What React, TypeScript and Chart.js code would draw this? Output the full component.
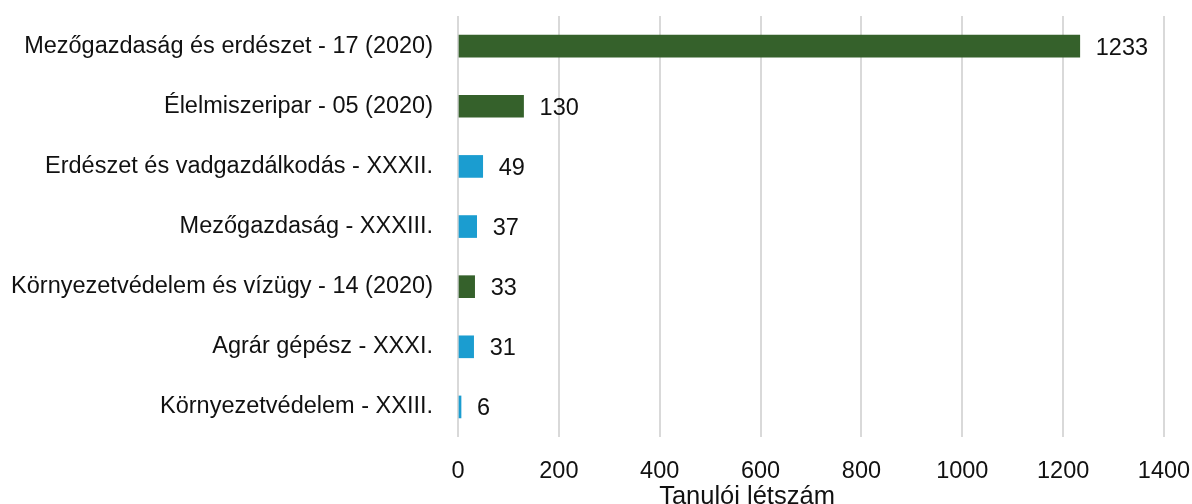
import React, { useEffect, useRef } from "react";
import { Chart, registerables } from "chart.js";

Chart.register(...registerables);

const categories = [
  "Mezőgazdaság és erdészet - 17 (2020)",
  "Élelmiszeripar - 05 (2020)",
  "Erdészet és vadgazdálkodás - XXXII.",
  "Mezőgazdaság - XXXIII.",
  "Környezetvédelem és vízügy - 14 (2020)",
  "Agrár gépész - XXXI.",
  "Környezetvédelem - XXIII.",
];
const studentCounts = [1233, 130, 49, 37, 33, 31, 6];
const programKind = ["2020", "2020", "old", "old", "2020", "old", "old"];
const xTicks = [0, 200, 400, 600, 800, 1000, 1200, 1400];
const xTitle = "Tanulói létszám";

const GREEN = "#35612b";
const BLUE = "#1b9dd0";
const FONT = "'Liberation Sans', Arial, sans-serif";

export default function App() {
  const ref = useRef<HTMLCanvasElement | null>(null);
  useEffect(() => {
    document.body.style.margin = "0";
    document.body.style.overflow = "hidden";
    const labelPlugin = {
      id: "valueLabels",
      afterDatasetsDraw(chart: any) {
        const ctx = chart.ctx;
        const meta = chart.getDatasetMeta(0);
        ctx.save();
        ctx.font = `23.5px ${FONT}`;
        ctx.fillStyle = "#111";
        ctx.textAlign = "left";
        ctx.textBaseline = "middle";
        meta.data.forEach((bar: any, i: number) => {
          ctx.fillText(String(studentCounts[i]), bar.x + 16, bar.y + 2);
        });
        ctx.restore();
      },
      afterDraw(chart: any) {
        const ctx = chart.ctx;
        const a = chart.chartArea;
        ctx.save();
        ctx.font = `25.5px ${FONT}`;
        ctx.fillStyle = "#111";
        ctx.textAlign = "center";
        ctx.textBaseline = "middle";
        ctx.fillText(xTitle, (a.left + a.right) / 2 - 64, a.bottom + 60);
        ctx.restore();
      },
    };
    const chart = new Chart(ref.current!, {
      type: "bar",
      data: {
        labels: categories,
        datasets: [
          {
            data: studentCounts,
            backgroundColor: programKind.map((k) => (k === "2020" ? GREEN : BLUE)),
            barThickness: 22,
          },
        ],
      },
      options: {
        indexAxis: "y",
        animation: false,
        responsive: false,
        devicePixelRatio: 1,
        layout: { padding: { top: 0, right: 0, left: 0, bottom: 0 } },
        plugins: { legend: { display: false }, tooltip: { enabled: false } },
        scales: {
          x: {
            min: 0,
            max: 1400,
            afterBuildTicks(scale: any) {
              scale.ticks = xTicks.map((v) => ({ value: v }));
            },
            afterFit(scale: any) {
              scale.height = 67;
              scale.paddingRight = 28;
              scale.paddingLeft = 0;
            },
            grid: { color: "#d9d9d9", lineWidth: 2, drawTicks: false },
            border: { display: false },
            ticks: {
              padding: 20,
              color: "#111",
              font: { family: FONT, size: 23.5 },
              callback: (v: any) => String(v),
            },
          },
          y: {
            afterFit(scale: any) {
              scale.width = 458;
            },
            grid: { display: false, drawTicks: false },
            border: { display: false },
            ticks: {
              padding: 25,
              color: "#111",
              font: { family: FONT, size: 23.5 },
            },
          },
        },
      },
      plugins: [labelPlugin],
    });
    return () => chart.destroy();
  }, []);
  return (
    <div style={{ width: 1192, height: 504, overflow: "hidden" }}>
      <canvas
        ref={ref}
        width={1192}
        height={527}
        style={{ display: "block", marginTop: -23 }}
      />
    </div>
  );
}
